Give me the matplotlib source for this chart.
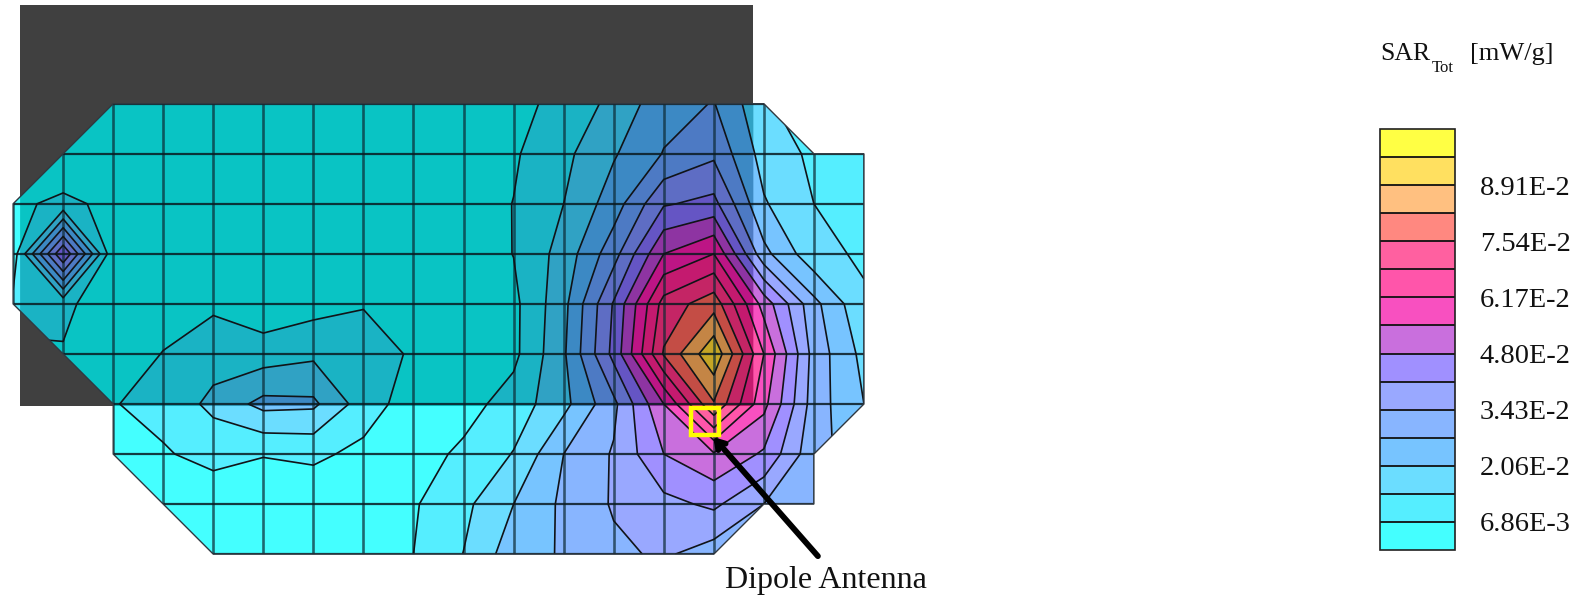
import numpy as np
import matplotlib
matplotlib.use("Agg")
import matplotlib.pyplot as plt
from matplotlib.colors import ListedColormap, BoundaryNorm, to_rgb
from matplotlib.patches import Polygon, Rectangle, PathPatch
from matplotlib.path import Path
from matplotlib.transforms import Bbox

plt.rcParams['font.family'] = ['Liberation Serif', 'DejaVu Serif']

# SAR at the mesh nodes, in units of one contour step (6.86E-3 mW/g), top row first
row_0 = [0.2, 0.2, 0.2, 0.2, 0.2, 0.2, 0.2, 0.2, 0.2, 0.3, 0.75, 1.25, 2.3, 3.6, 4.05, 2.2, 1.2, 0.8]
row_1 = [0.3, 0.1, 0.2, 0.2, 0.2, 0.2, 0.2, 0.2, 0.2, 0.4, 0.88, 1.75, 2.9, 4.05, 4.8, 2.6, 1.8, 1.2]
row_2 = [0.77, 1.25, 0.73, 0.2, 0.2, 0.2, 0.2, 0.2, 0.2, 0.5, 1.02, 2.0, 3.5, 5.9, 6.3, 3.1, 2.0, 1.4]
row_3 = [0.48, 7.0, 0.2, 0.2, 0.2, 0.2, 0.2, 0.2, 0.2, 0.4, 1.02, 2.4, 4.6, 8.0, 9.0, 4.3, 2.3, 1.85]
row_4 = [1.2, 1.3, 0.2, 0.6, 0.85, 0.3, 0.62, 0.95, 0.2, 0.3, 0.75, 2.7, 6.1, 10.4, 11.6, 7.6, 4.3, 2.15]
row_5 = [0.9, 0.9, 0.5, 1.03, 1.5, 1.5, 1.8, 1.4, 0.9, 0.6, 0.75, 2.85, 6.3, 11.1, 13.8, 9.0, 4.6, 2.7]
row_6 = [0.5, 0.5, 0.97, 1.2, 2.3, 3.3, 3.2, 1.5, 0.5, 0.6, 1.45, 2.7, 4.75, 8.0, 11.9, 8.3, 4.5, 3.0]
row_7 = [0.3, 0.3, 0.5, 0.94, 1.2, 1.05, 1.2, 0.75, 0.55, 1.2, 2.05, 4.0, 5.1, 7.0, 7.9, 6.85, 4.3, 3.5]
row_8 = [0.3, 0.3, 0.3, 0.3, 0.6, 0.3, 0.3, 0.1, 0.9, 1.75, 3.0, 4.2, 5.1, 5.7, 6.2, 5.0, 4.2, 3.5]
row_9 = [0.1, 0.1, 0.1, 0.1, 0.1, 0.1, 0.1, 0.1, 1.0, 2.02, 3.55, 4.1, 4.8, 5.15, 4.5, 4.0, 3.8, 3.5]

level_step = 6.86e-3
n_levels = 15
tick_labels = ['6.86E-3', '2.06E-2', '3.43E-2', '4.80E-2', '6.17E-2', '7.54E-2', '8.91E-2']
level_colors = ['#44FFFF', '#55EEFF', '#6BDDFF', '#77C4FF', '#88B5FF', '#99A8FF', '#A090FF',
                '#C96FDD', '#F850C0', '#FF55AA', '#FF60A0', '#FF8880', '#FFC080', '#FFE060', '#FFFF44']
mesh_outline = [(2, 0), (15, 0), (16, 1), (17, 1), (17, 6), (16, 7), (16, 8), (15, 8),
                (14, 9), (4, 9), (2, 7), (2, 6), (0, 4), (0, 2)]

sar = np.array([row_0, row_1, row_2, row_3, row_4, row_5, row_6, row_7, row_8, row_9]) * level_step
levels = np.arange(n_levels + 1) * level_step
nx, ny = sar.shape[1], sar.shape[0]
x = np.arange(nx)
y = np.arange(ny)

# where the colours lie over the grey plate they come out darker
dark_colors = [tuple(max(c - 59 / 255, 0) for c in to_rgb(col)) for col in level_colors]
light_cmap = ListedColormap(level_colors)
dark_cmap = ListedColormap(dark_colors)
norm = BoundaryNorm(levels, n_levels)

W, H = 1579, 596
fig = plt.figure(figsize=(W / 100, H / 100), dpi=100)
ax = fig.add_axes([0, 0, 1, 1])

# axes in mesh cells, one cell is about 50 px
cell = 50.05
x0, y0 = 13.1, 103.7
ax.set_xlim(-x0 / cell, (W - x0) / cell)
ax.set_ylim((H - y0) / cell, -y0 / cell)
ax.axis('off')

plate = Bbox([[0.14, -1.97], [14.79, 6.04]])
ax.add_patch(Rectangle((plate.x0, plate.y0), plate.width, plate.height,
                       facecolor='#404040', edgecolor='none', zorder=1))

mesh_patch = Polygon(mesh_outline, closed=True, facecolor='none', edgecolor='#303840',
                     linewidth=1.0, zorder=6)
ax.add_patch(mesh_patch)

over_plate = Path(mesh_outline + [mesh_outline[0]], closed=True).clip_to_bbox(plate)
plate_patch = PathPatch(over_plate, facecolor='none', edgecolor='none', zorder=0)
ax.add_patch(plate_patch)

cf_light = ax.contourf(x, y, sar, levels=levels, cmap=light_cmap, norm=norm, zorder=2)
cf_light.set_clip_path(mesh_patch)
cf_dark = ax.contourf(x, y, sar, levels=levels, cmap=dark_cmap, norm=norm, zorder=3)
cf_dark.set_clip_path(plate_patch)

cs = ax.contour(x, y, sar, levels=levels[1:], colors='#101418', linewidths=1.2, zorder=5)
cs.set_clip_path(mesh_patch)

for i in x:
    ln, = ax.plot([i, i], [0, ny - 1], color='#0c2a34', alpha=0.7, lw=1.9, zorder=4)
    ln.set_clip_path(mesh_patch)
for j in y:
    ln, = ax.plot([0, nx - 1], [j, j], color='#0a1a20', alpha=0.85, lw=1.6, zorder=4)
    ln.set_clip_path(mesh_patch)

# feed point marker and its label
ax.add_patch(Rectangle((13.54, 6.08), 0.56, 0.53, facecolor='none', edgecolor='#FFFF00',
                       linewidth=3.2, zorder=7))
ax.annotate('', xy=(13.99, 6.66), xytext=(16.08, 9.04),
            arrowprops=dict(arrowstyle='->,head_length=0.55,head_width=0.35', color='black',
                            lw=4.2, shrinkA=0, shrinkB=0), zorder=8)
ax.text(16.25, 9.53, 'Dipole Antenna', fontsize=23, ha='center', va='center', color='#111111', zorder=8)

# legend
cax = fig.add_axes([1380 / W, (H - 550) / H, 75 / W, 421 / H])
cbar = fig.colorbar(cf_light, cax=cax, drawedges=True, spacing='proportional',
                    ticks=levels[1:14:2])
cbar.minorticks_off()
cbar.ax.set_yticklabels(tick_labels)
cbar.ax.tick_params(length=0, pad=18, labelsize=20.5, labelcolor='#111111')
cbar.dividers.set_color('#111111')
cbar.dividers.set_linewidth(1.3)
cbar.outline.set_edgecolor('#202020')
cbar.outline.set_linewidth(1.2)

# legend title, built from pieces because of the small subscript
fig.text(1380 / W, 1 - 60 / H, 'SAR', fontsize=18.5, ha='left', va='baseline', color='#111111')
fig.text(1432 / W, 1 - 72 / H, 'Tot', fontsize=12, ha='left', va='baseline', color='#111111')
fig.text(1470 / W, 1 - 60 / H, '[mW/g]', fontsize=19, ha='left', va='baseline', color='#111111')

fig.savefig('out.png', dpi=100)
